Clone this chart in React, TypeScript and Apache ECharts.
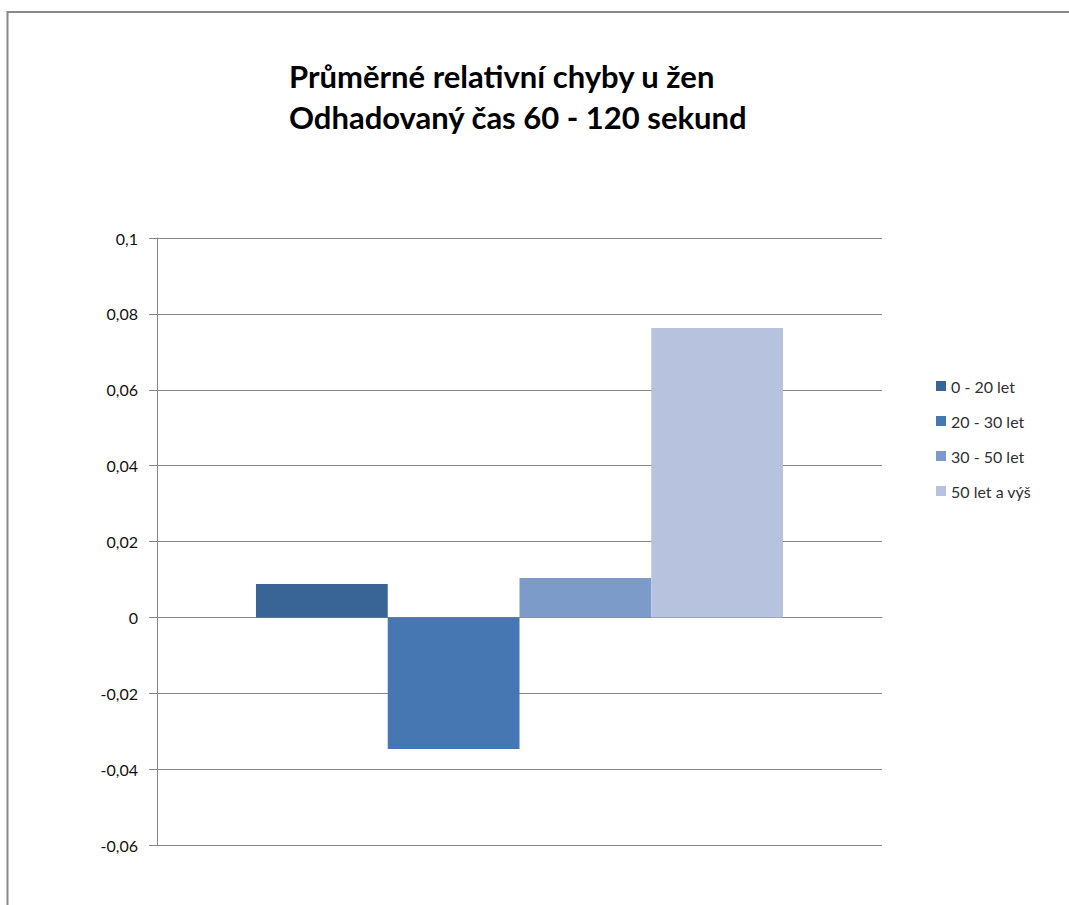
import React, { useEffect, useRef } from "react";
import * as echarts from "echarts";

// Average relative estimation error for women, grouped by age band
const ageGroups = ["0 - 20 let", "20 - 30 let", "30 - 50 let", "50 let a výš"];
const meanErrors = [0.0088, -0.0347, 0.0104, 0.0763];
const groupColors = ["#386595", "#4677B2", "#7C9BC9", "#B7C3DE"];
const titleLines = ["Průměrné relativní chyby u žen", "Odhadovaný čas 60 - 120 sekund"];

const FONT = "Lato, 'Open Sans', sans-serif";

export default function App() {
  const ref = useRef<HTMLDivElement>(null);

  useEffect(() => {
    document.body.style.margin = "0";
    if (!ref.current) return;
    const chart = echarts.init(ref.current, null, { renderer: "svg" });

    const series = ageGroups.map((name, i) => ({
      name,
      type: "bar" as const,
      data: [meanErrors[i]],
      barGap: "0%",
      barCategoryGap: "27.3%",
      itemStyle: { color: groupColors[i] },
    }));

    chart.setOption({
      animation: false,
      backgroundColor: "#ffffff",
      color: groupColors,
      title: {
        text: titleLines.join("\n"),
        left: 289,
        top: 55,
        padding: 0,
        textAlign: "left",
        textStyle: {
          fontFamily: FONT,
          fontSize: 31,
          fontWeight: "bold",
          lineHeight: 41,
          color: "#000000",
        },
      },
      legend: {
        orient: "vertical",
        left: 936,
        top: 378,
        padding: 0,
        itemWidth: 10,
        itemHeight: 10,
        itemGap: 19,
        icon: "rect",
        textStyle: { fontFamily: FONT, fontSize: 16, color: "#303030" },
        data: ageGroups,
      },
      grid: { left: 157, right: 187, top: 238, bottom: 60, containLabel: false },
      xAxis: {
        type: "category",
        data: [""],
        axisLine: { show: true, onZero: true, lineStyle: { color: "#868686", width: 1 } },
        axisTick: { show: false },
        axisLabel: { show: false },
        splitLine: { show: false },
      },
      yAxis: {
        type: "value",
        min: -0.06,
        max: 0.1,
        interval: 0.02,
        axisLine: { show: true, lineStyle: { color: "#868686", width: 1 } },
        axisTick: { show: true, length: 8, lineStyle: { color: "#868686" } },
        axisLabel: {
          margin: 19,
          fontFamily: FONT,
          fontSize: 16,
          color: "#111111",
          formatter: (v: number) => String(Math.round(v * 100) / 100).replace(".", ","),
        },
        splitLine: { show: true, lineStyle: { color: "#868686", width: 1 } },
      },
      graphic: [
        {
          type: "rect",
          shape: { x: 7.5, y: 12, width: 1200, height: 1000 },
          style: { fill: "none", stroke: "#888888", lineWidth: 2 },
          silent: true,
        },
      ],
      series,
    });

    return () => chart.dispose();
  }, []);

  return <div ref={ref} style={{ width: 1069, height: 905 }} />;
}
